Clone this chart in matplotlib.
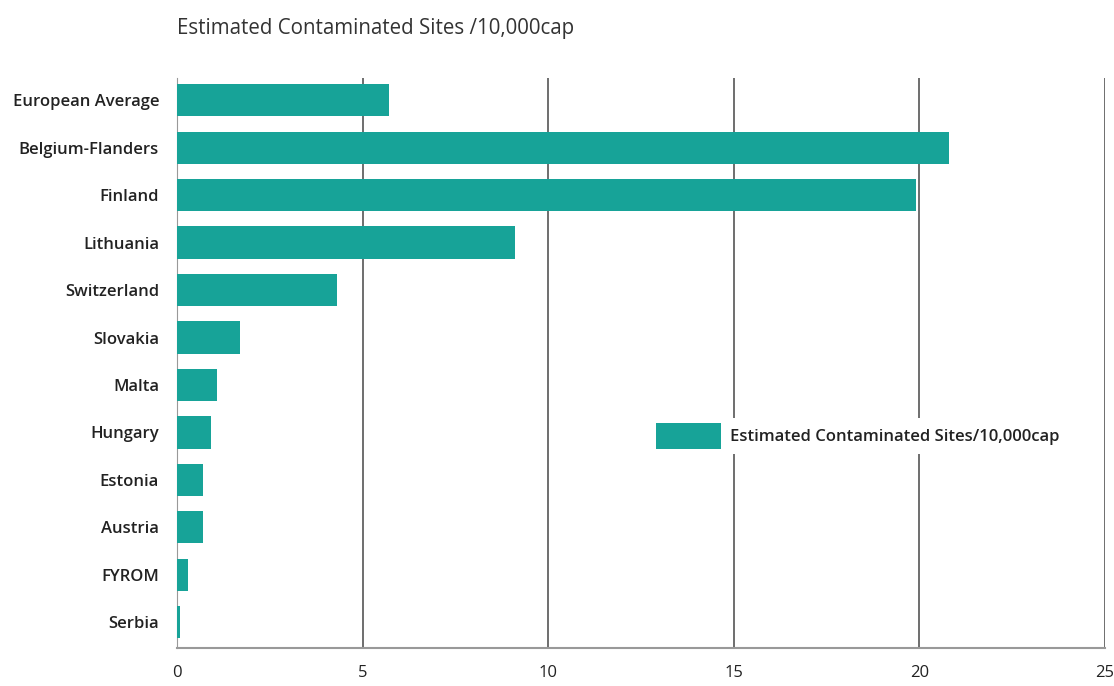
import numpy as np
from matplotlib import pyplot as plt
from matplotlib.patches import Patch

plt.rcParams['font.family'] = ['Open Sans', 'DejaVu Sans']

countries = ['European Average', 'Belgium-Flanders', 'Finland', 'Lithuania',
             'Switzerland', 'Slovakia', 'Malta', 'Hungary', 'Estonia',
             'Austria', 'FYROM', 'Serbia']
sites_per_10k = [5.7, 20.8, 19.9, 9.1, 4.3, 1.7, 1.08, 0.9, 0.7, 0.7, 0.3, 0.08]
xticks = [0, 5, 10, 15, 20, 25]

bar_col = '#17a398'
grid_col = '#555555'

fig = plt.figure(figsize=(11.14, 6.86), dpi=100)
ax = fig.add_axes([0.159, 0.055, 0.833, 0.832])

y = np.arange(len(countries))
ax.barh(y, sites_per_10k, height=0.68, color=bar_col, zorder=3)

ax.set_xlim(0, 25)
ax.set_ylim(len(countries) - 0.45, -0.48)
ax.set_yticks(y)
ax.set_yticklabels(countries, fontsize=12, fontweight='semibold', color='#222222')
ax.set_xticks(xticks)
ax.set_xticklabels([str(t) for t in xticks], fontsize=12, color='#222222')
ax.tick_params(axis='both', length=0)
ax.tick_params(axis='y', pad=13)
ax.tick_params(axis='x', pad=12)

for s in ['top', 'right']:
    ax.spines[s].set_visible(False)
ax.spines['left'].set_color('#999999')
ax.spines['bottom'].set_color('#999999')
ax.spines['bottom'].set_linewidth(1.5)

ax.xaxis.grid(True, color=grid_col, linewidth=1.2, zorder=1)
ax.set_axisbelow(True)

fig.text(0.159, 0.958, 'Estimated Contaminated Sites /10,000cap',
         fontsize=14.8, color='#333333', ha='left', va='center')

handle = Patch(facecolor=bar_col, edgecolor='none')
leg = ax.legend([handle], ['Estimated Contaminated Sites/10,000cap'],
                loc='center left', bbox_to_anchor=(0.502, 0.372),
                frameon=True, framealpha=1, edgecolor='none',
                prop={'size': 12, 'weight': 'semibold'},
                handlelength=3.9, handleheight=2.1,
                handletextpad=0.5, borderpad=0.3)
for t in leg.get_texts():
    t.set_color('#222222')
leg.set_zorder(5)

plt.savefig('out.png', dpi=100)
